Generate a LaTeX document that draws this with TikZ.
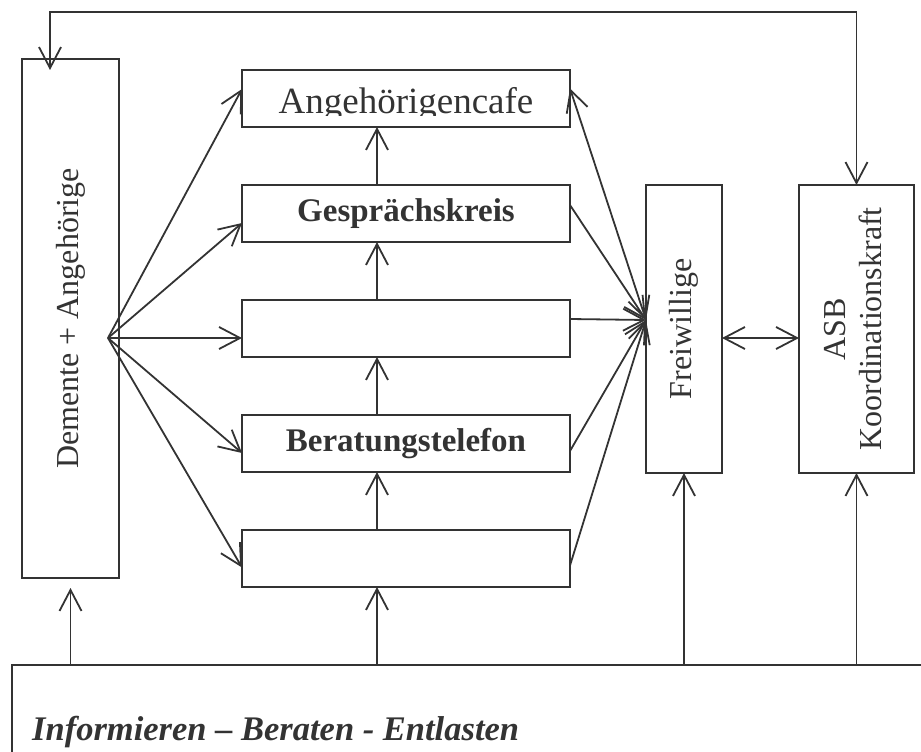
\documentclass[tikz,border=0pt]{standalone}
\usepackage{fontspec}
\setmainfont{Liberation Serif}
\usetikzlibrary{arrows.meta,positioning}
\tikzset{
  box/.style={rectangle, draw=black!80, line width=1.8pt, inner sep=0pt, outer sep=0pt,
              text=black!80, font=\fontsize{32}{36}\selectfont},
  bbox/.style={box, minimum width=328pt, minimum height=57pt,
               font=\fontsize{33}{36}\selectfont\bfseries},
  arr/.style={-{Straight Barb[length=21pt,width=22pt]}, line width=1.8pt, draw=black!80},
  darr/.style={{Straight Barb[length=21pt,width=22pt]}-{Straight Barb[length=21pt,width=22pt]},
               line width=1.8pt, draw=black!80},
}

\begin{document}
\begin{tikzpicture}[x=1pt, y=-1pt, node distance=58pt]
\useasboundingbox (0,0) rectangle (921,752);

% LEFT
\node[box, minimum width=97pt, minimum height=519pt] (dem) at (70.5,318.5) {\rotatebox{90}{Demente + Angehörige}};

% MIDDLE COLUMN
\node[bbox] (cafe) at (406,98.5) {};
\begin{scope}
  \clip (cafe.north west) rectangle ([yshift=12pt]cafe.south east);
  \node[text=black!80, font=\fontsize{37}{40}\selectfont, text depth=0pt] (cafetext) at ([yshift=-2pt]cafe.center) {Angehörigencafe};
\end{scope}
\node[bbox, below=of cafe] (gesp) {Gesprächskreis};
\node[bbox, below=of gesp] (mid) {};
\node[bbox, below=of mid] (ber) {Beratungstelefon};
\node[bbox, below=of ber] (low) {};

% RIGHT
\node[box, minimum width=76pt, minimum height=288pt] (frei) at (684,329) {\rotatebox{90}{Freiwillige}};
\node[box, minimum width=115pt, minimum height=288pt] (asb) at (856.5,329) {\rotatebox{90}{\begin{tabular}{@{}c@{}}ASB\\Koordinationskraft\end{tabular}}};

% BOTTOM
\node[box, minimum width=948pt, minimum height=135pt] (info) at (486,732.5) {};
\node[anchor=base west, inner sep=0pt, text=black!80, font=\fontsize{34.5}{38}\selectfont\bfseries\itshape] (infotext) at ([xshift=20pt,yshift=-75pt]info.north west) {Informieren – Beraten - Entlasten};

% Helper points
\coordinate (fanL) at ([xshift=-11pt,yshift=-19.5pt]dem.east);
\coordinate (fanR) at ([yshift=9pt]frei.west);
\coordinate (topline) at (0,12);
\coordinate (spine) at ([xshift=-29pt]low.south);

% Arrows
\draw[darr] ([xshift=-20.5pt,yshift=-11pt]dem.north) |- (topline -| asb.north) -- (asb.north);

\draw[arr] (fanL) -- ([yshift=9.5pt]cafe.west);
\draw[arr] (fanL) -- ([yshift=-9.5pt]gesp.west);
\draw[arr] (fanL) -- ([yshift=-9.5pt]mid.west);
\draw[arr] (fanL) -- ([yshift=-9.5pt]ber.west);
\draw[arr] (fanL) -- ([yshift=-9pt]low.west);

\draw[darr] ([yshift=10pt]cafe.east) -- (fanR);
\draw[arr] ([yshift=8.5pt]gesp.east) -- (fanR);
\draw[arr] ([yshift=9.5pt]mid.east) -- (fanR);
\draw[arr] ([yshift=-7.5pt]ber.east) -- (fanR);
\draw[arr] ([yshift=-7pt]low.east) -- (fanR);

\draw[arr] ([xshift=-29pt]low.north) -- ([xshift=-29pt]ber.south);
\draw[arr] ([xshift=-29pt]ber.north) -- ([xshift=-29pt]mid.south);
\draw[arr] ([xshift=-29pt]mid.north) -- ([xshift=-29pt]gesp.south);
\draw[arr] ([xshift=-29pt]gesp.north) -- ([xshift=-29pt]cafe.south);

\draw[darr] ([yshift=-9pt]frei.east) -- ([yshift=-9pt]asb.west);

\draw[arr] (dem.south |- info.north) -- ([yshift=-10pt]dem.south);
\draw[arr] (spine |- info.north) -- (spine);
\draw[arr] (frei.south |- info.north) -- (frei.south);
\draw[arr] (asb.south |- info.north) -- (asb.south);

\end{tikzpicture}
\end{document}
